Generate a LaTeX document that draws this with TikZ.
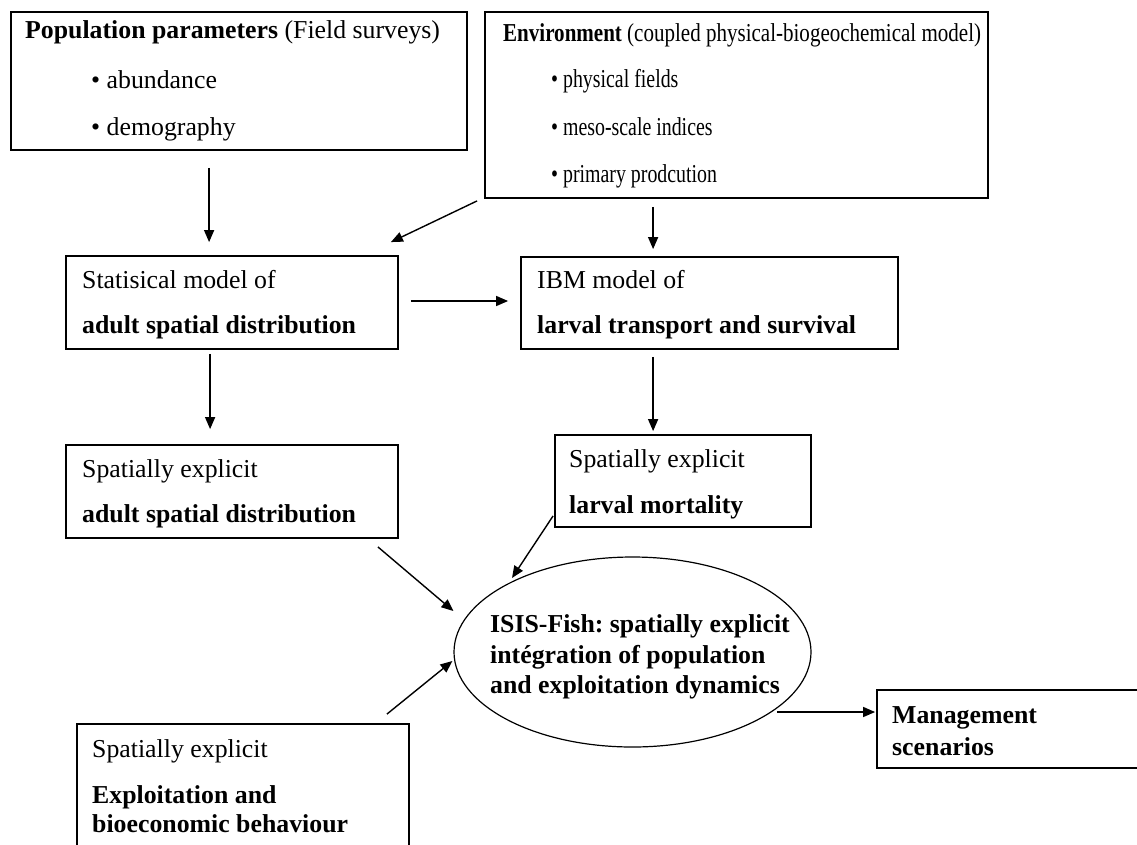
\documentclass[tikz,border=0pt]{standalone}
\usepackage{fontspec}
\setmainfont{Liberation Serif}
\usetikzlibrary{arrows.meta,calc,shapes.geometric}
\frenchspacing
\begin{document}
\begin{tikzpicture}[x=1pt,y=-1pt,
  box/.style={draw=black, line width=1.8pt, rectangle, inner sep=0pt},
  txt/.style={anchor=base west, inner sep=0pt, font=\fontsize{25.8}{30}\selectfont},
  txtb/.style={anchor=base west, inner sep=0pt, font=\fontsize{25.8}{30}\selectfont\bfseries},
  arr/.style={line width=1.4pt, -{Triangle[length=12pt,width=10pt]}}]
\clip (0,0) rectangle (1137,844);
\fill[white] (0,0) rectangle (1137,844);
% boxes
\node[box, minimum width=456pt, minimum height=138pt] (b1) at (239,81) {};
\node[box, minimum width=503pt, minimum height=186pt] (b2) at (736.5,105) {};
\node[box, minimum width=332pt, minimum height=93pt] (stat) at (232,302.5) {};
\node[box, minimum width=377pt, minimum height=92pt] (ibm) at (709.5,303) {};
\node[box, minimum width=332pt, minimum height=93pt] (spadult) at (232,491.5) {};
\node[box, minimum width=256pt, minimum height=92pt] (larval) at (683,481) {};
\node[box, minimum width=332pt, minimum height=156pt] (exploit) at (243,802) {};
\node[box, minimum width=283pt, minimum height=78pt] (mgmt) at (1018.5,729) {};
\node[draw=black, ellipse, line width=1.2pt, minimum width=357pt, minimum height=190pt, inner sep=0pt] (isis) at (632.5,652) {};
% texts
\node[txt] (t1a) at (25,38) {\textbf{Population parameters} (Field surveys)};
\node[txt] (t1b) at (91,88) {• abundance};
\node[txt] (t1c) at (91,135) {• demography};
\node[txt] (t2a) at (503,41) {\scalebox{0.815}[1]{\textbf{Environment} (coupled physical-biogeochemical model)}};
\node[txt] (t2b) at (551,87) {\scalebox{0.77}[1]{• physical fields}};
\node[txt] (t2c) at (551,135) {\scalebox{0.77}[1]{• meso-scale indices}};
\node[txt] (t2d) at (551,182) {\scalebox{0.77}[1]{• primary prodcution}};
\node[txt] (t3a) at (82,288) {Statisical model of};
\node[txtb] (t3b) at (82,333) {adult spatial distribution};
\node[txt] (t4a) at (537,288) {IBM model of};
\node[txtb] (t4b) at (537,333) {larval transport and survival};
\node[txt] (t5a) at (82,477) {Spatially explicit};
\node[txtb] (t5b) at (82,522) {adult spatial distribution};
\node[txt] (t6a) at (569,467) {Spatially explicit};
\node[txtb] (t6b) at (569,513) {larval mortality};
\node[txt] (t7a) at (92,757) {Spatially explicit};
\node[txtb] (t7b) at (92,803) {Exploitation and};
\node[txtb] (t7c) at (92,832) {bioeconomic behaviour};
\node[txtb] (t8a) at (490,632) {ISIS-Fish: spatially explicit};
\node[txtb] (t8b) at (490,663) {intégration of population};
\node[txtb] (t8c) at (490,693) {and exploitation dynamics};
\node[txtb] (t9a) at (892,723) {Management};
\node[txtb] (t9b) at (892,755) {scenarios};
% connectors
\draw[arr] ($(b1.south west)+(199,17)$) -- ($(stat.north west)+(144,-13)$);
\draw[arr] ($(b2.south west)+(-7,2)$) -- ($(stat.north east)+(-8,-13)$);
\draw[arr] ($(b2.south west)+(169,8)$) -- ($(ibm.north west)+(133,-7)$);
\draw[arr] ($(stat.east)+(12,-1.5)$) -- ($(ibm.west)+(-12,-2)$);
\draw[arr] ($(stat.south west)+(145,4)$) -- ($(spadult.north west)+(145,-15)$);
\draw[arr] ($(ibm.south west)+(133,7)$) -- ($(larval.north west)+(99,-3)$);
\draw[arr] ($(spadult.south east)+(-21,8)$) -- ($(isis.west)+(0,-41)$);
\draw[arr] ($(larval.south west)+(-1,-12)$) -- ($(isis.center)+(-120.5,-74)$);
\draw[arr] ($(exploit.north east)+(-23,-9)$) -- ($(isis.west)+(-1,9)$);
\draw[arr] ($(isis.center)+(144.5,60)$) -- ($(mgmt.west)+(-1,-17)$);
\end{tikzpicture}
\end{document}
